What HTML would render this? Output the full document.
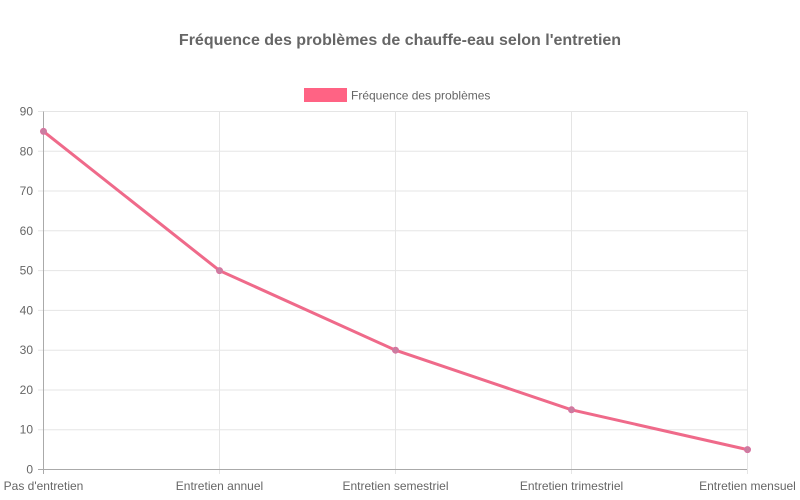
<!DOCTYPE html>
<html><head><style>body{margin:0;background:#fff}svg{display:block}text{font-family:"Liberation Sans",sans-serif}</style></head>
<body>
<svg width="800" height="500" xmlns="http://www.w3.org/2000/svg">
<text x="400" y="45" text-anchor="middle" font-size="16" font-weight="bold" fill="#666">Fréquence des problèmes de chauffe-eau selon l'entretien</text>
<rect x="304" y="88" width="43" height="14" fill="#ff6384"/>
<text x="351" y="99.5" font-size="12" fill="#666">Fréquence des problèmes</text>
<g stroke="#e5e5e5" stroke-width="1">
<line x1="38" y1="111.5" x2="747" y2="111.5"/><line x1="38" y1="151.3" x2="747" y2="151.3"/><line x1="38" y1="191" x2="747" y2="191"/><line x1="38" y1="230.8" x2="747" y2="230.8"/><line x1="38" y1="270.6" x2="747" y2="270.6"/><line x1="38" y1="310.4" x2="747" y2="310.4"/><line x1="38" y1="350.2" x2="747" y2="350.2"/><line x1="38" y1="390" x2="747" y2="390"/><line x1="38" y1="429.7" x2="747" y2="429.7"/>
<line x1="219.5" y1="111.5" x2="219.5" y2="474"/><line x1="395.5" y1="111.5" x2="395.5" y2="474"/><line x1="571.5" y1="111.5" x2="571.5" y2="474"/><line x1="747.5" y1="111.5" x2="747.5" y2="474"/>
</g>
<g stroke="#aaa"><line x1="43.5" y1="111.5" x2="43.5" y2="474"/><line x1="38" y1="469.5" x2="747" y2="469.5"/></g>
<g font-size="12" fill="#666" text-anchor="end">
<text x="33" y="115.5">90</text><text x="33" y="155.3">80</text><text x="33" y="195">70</text><text x="33" y="234.8">60</text><text x="33" y="274.6">50</text><text x="33" y="314.4">40</text><text x="33" y="354.2">30</text><text x="33" y="394">20</text><text x="33" y="433.7">10</text><text x="33" y="473.5">0</text>
</g>
<g font-size="12" fill="#666" text-anchor="middle">
<text x="43.5" y="490">Pas d'entretien</text><text x="219.5" y="490">Entretien annuel</text><text x="395.5" y="490">Entretien semestriel</text><text x="571.5" y="490">Entretien trimestriel</text><text x="747.5" y="490">Entretien mensuel</text>
</g>
<polyline points="43.5,131.4 219.5,270.6 395.5,350.2 571.5,409.8 747.5,449.6" fill="none" stroke="#ef6a8a" stroke-width="3"/>
<g fill="#c97fa0" stroke="#d873a0" stroke-width="1">
<circle cx="43.5" cy="131.4" r="3"/><circle cx="219.5" cy="270.6" r="3"/><circle cx="395.5" cy="350.2" r="3"/><circle cx="571.5" cy="409.8" r="3"/><circle cx="747.5" cy="449.6" r="3"/>
</g>
</svg>
</body></html>
